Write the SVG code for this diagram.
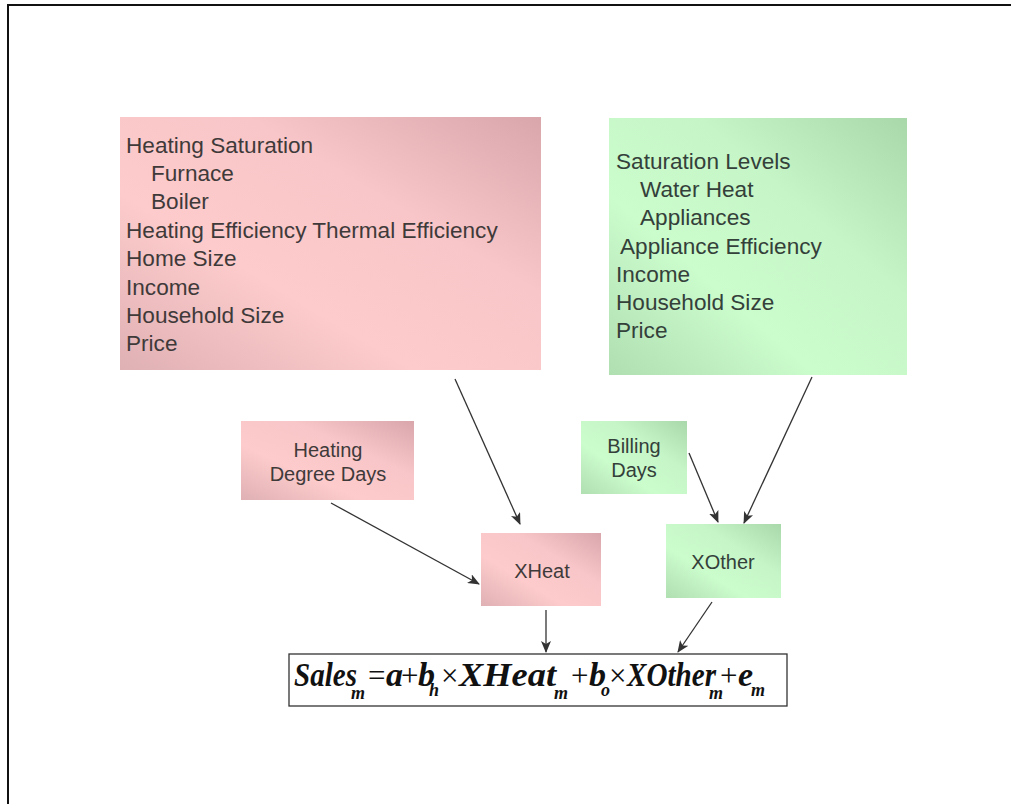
<svg xmlns="http://www.w3.org/2000/svg" width="1011" height="804" viewBox="0 0 1011 804">
<style>
.t{font-family:"Liberation Sans",Arial,sans-serif;font-size:22.6px;fill:#3f3a3a}
.tg{font-family:"Liberation Sans",Arial,sans-serif;font-size:22.6px;fill:#34403a}
.s{font-family:"Liberation Sans",Arial,sans-serif;font-size:20px;text-anchor:middle}
.c{stroke:#333;stroke-width:1.3;fill:none;marker-end:url(#ah)}
.f{font-family:"Liberation Serif","Times New Roman",serif;font-style:italic;font-weight:bold;font-size:34px;fill:#111}
.fs{font-family:"Liberation Serif","Times New Roman",serif;font-style:italic;font-weight:bold;font-size:18px;fill:#111}
.fo{font-family:"Liberation Serif","Times New Roman",serif;font-size:31px;fill:#111}
</style>
<defs>
<linearGradient id="pk" x1="1" y1="0" x2="0" y2="1">
<stop offset="0" stop-color="#d9a6ac"/>
<stop offset="0.35" stop-color="#f8c6c8"/>
<stop offset="0.65" stop-color="#fdcbcb"/>
<stop offset="1" stop-color="#dfb0b4"/>
</linearGradient>
<linearGradient id="gr" x1="1" y1="0" x2="0" y2="1">
<stop offset="0" stop-color="#a9d9ab"/>
<stop offset="0.35" stop-color="#c6f6c7"/>
<stop offset="0.65" stop-color="#cbfccc"/>
<stop offset="1" stop-color="#b0dfb2"/>
</linearGradient>
<marker id="ah" viewBox="0 0 12 10" refX="11" refY="5" markerWidth="12" markerHeight="10" markerUnits="userSpaceOnUse" orient="auto">
<path d="M0,0 L12,5 L0,10 L3,5 z" fill="#333"/>
</marker>
</defs>
<rect width="1011" height="804" fill="#fff"/>
<path d="M7,5 H1011 M8,5 V804" stroke="#111" stroke-width="2" fill="none"/>

<g id="heating-factors">
<rect x="120" y="117" width="421" height="253" fill="url(#pk)"/>
<text class="t" x="126" y="153">Heating Saturation</text>
<text class="t" x="151" y="181">Furnace</text>
<text class="t" x="151" y="209">Boiler</text>
<text class="t" x="126" y="238">Heating Efficiency Thermal Efficiency</text>
<text class="t" x="126" y="266">Home Size</text>
<text class="t" x="126" y="295">Income</text>
<text class="t" x="126" y="323">Household Size</text>
<text class="t" x="126" y="351">Price</text>
</g>

<g id="other-factors">
<rect x="609" y="118" width="298" height="257" fill="url(#gr)"/>
<text class="tg" x="616" y="169">Saturation Levels</text>
<text class="tg" x="640" y="197">Water Heat</text>
<text class="tg" x="640" y="225">Appliances</text>
<text class="tg" x="620" y="254">Appliance Efficiency</text>
<text class="tg" x="616" y="282">Income</text>
<text class="tg" x="616" y="310">Household Size</text>
<text class="tg" x="616" y="338">Price</text>
</g>

<g id="hdd">
<rect x="241" y="421" width="173" height="79" fill="url(#pk)"/>
<text class="s" x="328" y="457" fill="#3f3a3a">Heating</text>
<text class="s" x="328" y="481" fill="#3f3a3a">Degree Days</text>
</g>

<g id="billing">
<rect x="581" y="421" width="106" height="73" fill="url(#gr)"/>
<text class="s" x="634" y="453" fill="#34403a">Billing</text>
<text class="s" x="634" y="477" fill="#34403a">Days</text>
</g>

<g id="xheat">
<rect x="481" y="533" width="120" height="73" fill="url(#pk)"/>
<text class="s" x="542" y="578" fill="#3f3a3a">XHeat</text>
</g>

<g id="xother">
<rect x="666" y="524" width="115" height="74" fill="url(#gr)"/>
<text class="s" x="723" y="569" fill="#34403a">XOther</text>
</g>

<g id="formula">
<rect x="289" y="654" width="498" height="52" fill="#fff" stroke="#333" stroke-width="1.3"/>
<text class="f" x="294" y="686" textLength="63" lengthAdjust="spacingAndGlyphs">Sales</text>
<text class="fs" x="351" y="699">m</text>
<text class="fo" x="368" y="686">=</text>
<text class="f" x="386" y="686">a</text>
<text class="fo" x="401" y="686">+</text>
<text class="f" x="418" y="686">b</text>
<text class="fs" x="429" y="696">h</text>
<text class="fo" x="441" y="686">×</text>
<text class="f" x="459" y="686" textLength="97" lengthAdjust="spacingAndGlyphs">XHeat</text>
<text class="fs" x="554" y="699">m</text>
<text class="fo" x="571" y="686">+</text>
<text class="f" x="589" y="686">b</text>
<text class="fs" x="601" y="696">o</text>
<text class="fo" x="609" y="686">×</text>
<text class="f" x="627" y="686" textLength="89" lengthAdjust="spacingAndGlyphs">XOther</text>
<text class="fs" x="709" y="699">m</text>
<text class="fo" x="720" y="686">+</text>
<text class="f" x="738" y="686">e</text>
<text class="fs" x="751" y="696">m</text>
</g>

<g id="connectors">
<line class="c" x1="455" y1="379" x2="520" y2="524"/>
<line class="c" x1="331" y1="503" x2="479" y2="584"/>
<line class="c" x1="689" y1="453" x2="718" y2="522"/>
<line class="c" x1="812" y1="377" x2="744" y2="523"/>
<line class="c" x1="546" y1="610" x2="546" y2="652"/>
<line class="c" x1="712" y1="602" x2="678" y2="652"/>
</g>
</svg>
